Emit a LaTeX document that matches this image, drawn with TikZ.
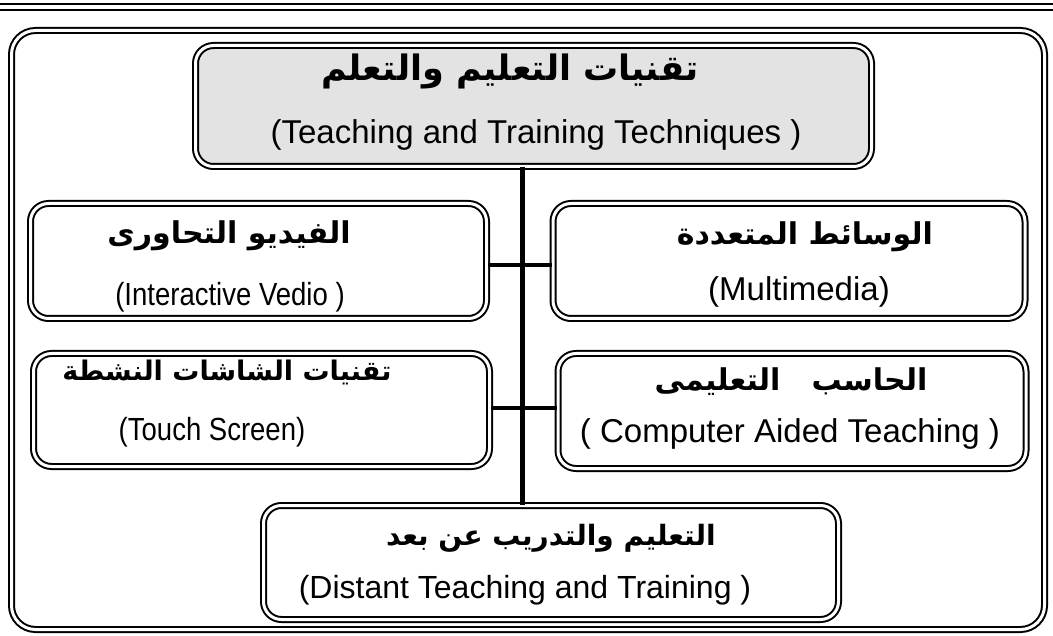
\documentclass[tikz,border=0pt]{standalone}
\usepackage{fontspec}
\usepackage{tikz}
\usetikzlibrary{calc}
\setmainfont{Liberation Sans}
\newfontfamily\narrowfont[FakeStretch=0.86]{Liberation Sans}
\newfontfamily\arabicfont[Script=Arabic]{DejaVu Sans}
\TeXXeTstate=1
\tikzset{tech box/.style={draw=black,double,double distance=3pt,line width=2pt,rounded corners=18pt,inner sep=0pt,fill=white},
         ar text/.style={font=\arabicfont\bfseries\fontsize{#1}{#1}\selectfont,inner sep=0pt},
         ar text/.default=30,
         en text/.style={font=\fontsize{#1}{#1}\selectfont,inner sep=0pt},
         en text/.default=33,
         narrow text/.style={font=\narrowfont\fontsize{32}{32}\selectfont,inner sep=0pt},
         link/.style={line width=4pt}}
\def\ar#1{\beginR #1\endR}

\begin{document}
\begin{tikzpicture}[x=1pt,y=-1pt]

            \useasboundingbox (0,0) rectangle (1053,636);

            \def \frameRadius{24pt}

            \draw[line width=1.5pt] (0,4) -- (1053,4);
            \draw[line width=2.5pt] (0,10) -- (1053,10);
            \draw[double,double distance=3pt,line width=2pt,rounded corners=\frameRadius] (11.5,30.5) rectangle (1044.5,629.5);

            \node[tech box, fill=black!11, minimum width=676, minimum height=121] (tech) at (533.5,106) {};
            \node[tech box, minimum width=456, minimum height=115] (video) at (258.5,261) {};
            \node[tech box, minimum width=472, minimum height=115] (multi) at (789,261) {};
            \node[tech box, minimum width=456, minimum height=113] (touch) at (261.5,410) {};
            \node[tech box, minimum width=468, minimum height=115] (comp) at (792,411) {};
            \node[tech box, minimum width=575, minimum height=114] (distant) at (551,562.5) {};

            \node[ar text=35] (techAr) at (510,71) {\ar{تقنيات التعليم والتعلم}};
            \node[en text] (techEn) at (536,135) {(Teaching and Training Techniques )};
            \node[ar text] (videoAr) at (229,236) {\ar{الفيديو التحاورى}};
            \node[narrow text] (videoEn) at (230,297) {(Interactive Vedio )};
            \node[ar text] (multiAr) at (805,237) {\ar{الوسائط المتعددة}};
            \node[en text] (multiEn) at (799,292) {(Multimedia)};
            \node[ar text=27] (touchAr) at (227,372) {\ar{تقنيات الشاشات النشطة}};
            \node[narrow text] (touchEn) at (212,432) {(Touch Screen)};
            \node[ar text] (compAr) at (791,382) {\ar{الحاسب \ \ التعليمى}};
            \node[en text] (compEn) at (790,434) {( Computer Aided Teaching )};
            \node[ar text=28] (distantAr) at (551,538) {\ar{التعليم والتدريب عن بعد}};
            \node[en text=32] (distantEn) at (525,590) {(Distant Teaching and Training )};

            \coordinate (spine) at (522,0);
            \coordinate (rowA) at (0,265);
            \coordinate (rowB) at (0,408);
            \draw[link, line width=5pt] (tech.south -| spine) -- (distant.north -| spine);
            \draw[link] (video.east |- rowA) -- (multi.west |- rowA);
            \draw[link] (touch.east |- rowB) -- (comp.west |- rowB);

          \end{tikzpicture}
\end{document}
